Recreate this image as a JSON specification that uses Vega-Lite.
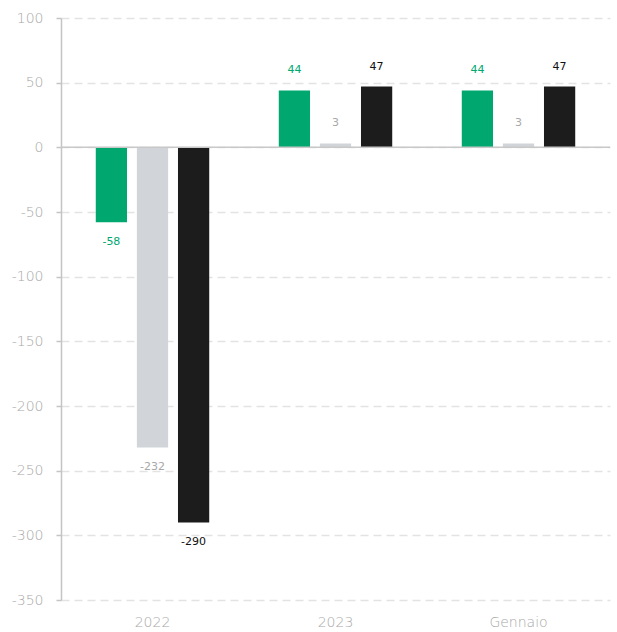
{
  "$schema": "https://vega.github.io/schema/vega-lite/v6.json",
  "width": 549,
  "height": 582,
  "autosize": {"type": "none"},
  "padding": {"left": 61, "top": 18, "right": 7, "bottom": 32},
  "config": {
    "view": {"stroke": null},
    "font": "DejaVu Sans",
    "axis": {"labelFont": "DejaVu Sans"}
  },
  "data": {
    "values": [
      {"periodo": "2022", "serie": "A", "valore": -58},
      {"periodo": "2022", "serie": "B", "valore": -232},
      {"periodo": "2022", "serie": "C", "valore": -290},
      {"periodo": "2023", "serie": "A", "valore": 44},
      {"periodo": "2023", "serie": "B", "valore": 3},
      {"periodo": "2023", "serie": "C", "valore": 47},
      {"periodo": "Gennaio", "serie": "A", "valore": 44},
      {"periodo": "Gennaio", "serie": "B", "valore": 3},
      {"periodo": "Gennaio", "serie": "C", "valore": 47}
    ]
  },
  "encoding": {
    "x": {
      "field": "periodo",
      "type": "nominal",
      "sort": ["2022", "2023", "Gennaio"],
      "scale": {"paddingInner": 0.38, "paddingOuter": 0.19},
      "axis": {
        "title": null,
        "labelAngle": 0,
        "domain": false,
        "ticks": false,
        "labelColor": "#a8a8a8",
        "labelFontSize": 14,
        "labelFontWeight": 200,
        "labelPadding": 15
      }
    },
    "xOffset": {
      "field": "serie",
      "type": "nominal",
      "sort": ["A", "B", "C"],
      "scale": {"paddingInner": 0.24, "paddingOuter": 0}
    },
    "y": {
      "field": "valore",
      "type": "quantitative",
      "scale": {"domain": [-350, 100], "nice": false, "zero": false},
      "axis": {
        "title": null,
        "values": [-350, -300, -250, -200, -150, -100, -50, 0, 50, 100],
        "labelExpr": "replace(datum.label, '\u2212', '-')",
        "grid": true,
        "gridDash": [8, 5],
        "gridColor": "#e3e3e3",
        "gridWidth": 1.5,
        "domainColor": "#c4c4c4",
        "domainWidth": 1.5,
        "tickColor": "#c4c4c4",
        "tickSize": 5,
        "tickWidth": 1.5,
        "labelColor": "#a8a8a8",
        "labelFontSize": 14,
        "labelFontWeight": 200,
        "labelPadding": 13
      }
    },
    "color": {
      "field": "serie",
      "type": "nominal",
      "legend": null,
      "scale": {"domain": ["A", "B", "C"], "range": ["#00a870", "#d1d4d8", "#1c1c1c"]}
    }
  },
  "layer": [
    {
      "mark": {"type": "bar"}
    },
    {
      "data": {"values": [{"z": 0}]},
      "mark": {"type": "rule", "color": "#c8c8c8", "strokeWidth": 1.5},
      "encoding": {
        "y": {"field": "z", "type": "quantitative"},
        "x": null,
        "xOffset": null,
        "color": null
      }
    },
    {
      "transform": [{"filter": "datum.valore >= 0"}],
      "mark": {"type": "text", "dy": -20, "baseline": "middle", "fontSize": 11},
      "encoding": {
        "text": {"field": "valore", "type": "nominal"},
        "color": {
          "field": "serie",
          "type": "nominal",
          "legend": null,
          "scale": {"domain": ["A", "B", "C"], "range": ["#00a870", "#a8a8a8", "#111111"]}
        }
      }
    },
    {
      "transform": [{"filter": "datum.valore < 0"}],
      "mark": {"type": "text", "dy": 20, "baseline": "middle", "fontSize": 11},
      "encoding": {
        "text": {"field": "valore", "type": "nominal"},
        "color": {
          "field": "serie",
          "type": "nominal",
          "legend": null,
          "scale": {"domain": ["A", "B", "C"], "range": ["#00a870", "#a8a8a8", "#111111"]}
        }
      }
    }
  ],
  "resolve": {"scale": {"color": "independent"}}
}
